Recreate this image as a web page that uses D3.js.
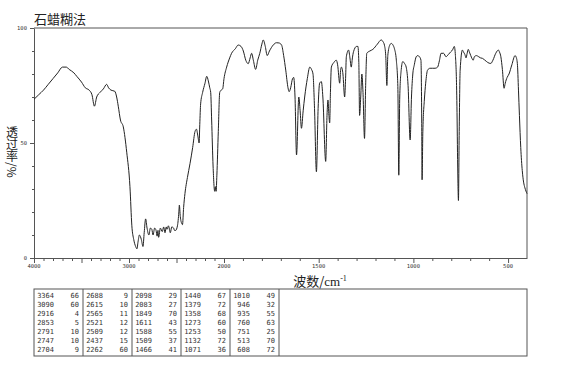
<!DOCTYPE html>
<html>
<head>
<meta charset="utf-8">
<script src="https://cdn.jsdelivr.net/npm/d3@7"></script>
<style>
  body { margin: 0; background: #fff; }
  svg { display: block; }
</style>
</head>
<body>
<div class="canvas"></div>
<script>
// spectrum: [wavenumber, transmittance %]
const spectrum = [
  [4000,69],[3950,71],[3900,73],[3850,75.5],[3800,78],[3750,80.5],[3700,83],[3660,83],
  [3630,82],[3580,80.5],[3550,79],[3500,76.5],[3460,74],[3420,73],[3390,71],[3364,66],
  [3340,70],[3305,72],[3270,73.5],[3235,75.5],[3215,74],[3190,73],[3150,72.5],[3130,70],
  [3113,66],[3090,60],[3060,57],[3024,46],[2990,31],[2970,14],[2950,8],[2930,5],[2916,4],
  [2905,7],[2890,10],[2870,8],[2853,5],[2840,11],[2825,17],[2810,13],[2791,10],[2775,13],
  [2760,12.5],[2747,10],[2730,13],[2715,12],[2704,9.5],[2695,12],[2688,9],[2670,13],
  [2650,11.5],[2635,13.5],[2621,11],[2608,13.5],[2600,12.5],[2585,14],[2565,11],[2550,13.5],
  [2530,13],[2521,12],[2509,12],[2490,14],[2475,20],[2470,23],[2460,18],[2445,15],
  [2437,14.5],[2425,22],[2411,28],[2385,35],[2358,41],[2330,48],[2305,55],[2290,56],
  [2275,53],[2262,50],[2255,58],[2246,67],[2225,72],[2200,76],[2182,79],[2165,77],
  [2150,74],[2140,72],[2130,60],[2115,40],[2098,29],[2090,31],[2083,29],[2075,36],
  [2060,55],[2045,72],[2030,73],[2014,73.5],[2000,78],[1986,83],[1970,87],[1960,89],
  [1940,91],[1925,92.6],[1910,92],[1898,90],[1885,86],[1872,84.5],[1862,87],[1854,89],
  [1845,86],[1833,82],[1822,86],[1811,89],[1800,93],[1793,94.8],[1782,92],[1772,88],
  [1760,90],[1740,92.6],[1723,93.6],[1710,93.5],[1696,92.6],[1685,88],[1674,81.7],
  [1662,74],[1656,72.3],[1648,74],[1638,78],[1632,78.5],[1625,70],[1617,44.8],[1605,70],
  [1598,64],[1591,56.4],[1582,64],[1574,70],[1560,78],[1547,83],[1538,82],[1530,80],
  [1522,65],[1512,37.5],[1503,65],[1495,76],[1486,76.7],[1478,70],[1463,42],[1456,62],
  [1451,68.7],[1446,62],[1442,58.7],[1438,72],[1433,83],[1420,85],[1407,86],[1400,84],
  [1389,76],[1384,82],[1380,83],[1372,80],[1363,70],[1358,78],[1354,87.5],[1342,90.4],
  [1335,87],[1328,83],[1322,87],[1316,89.7],[1300,92],[1293,92],[1288,85],[1284,62],
  [1278,70],[1272,80],[1266,72],[1258,52],[1252,75],[1246,89],[1230,90],[1214,90.7],
  [1190,93],[1170,94.8],[1160,94],[1153,92.6],[1146,88],[1140,75],[1135,88],[1125,92.5],
  [1117,93.3],[1107,92.5],[1100,91],[1090,86],[1082,74.5],[1077,36],[1072,70],[1064,82],
  [1056,85.4],[1046,84.5],[1038,83],[1028,75],[1017,51.3],[1010,70],[1003,80],[995,84],
  [985,87.5],[977,88],[968,87.5],[960,86],[956,60],[954,34],[950,55],[942,68.7],[935,76],
  [925,81.7],[912,82.5],[898,82.5],[885,82.5],[872,83],[862,86],[854,89],[840,89],
  [828,87.5],[815,88.5],[802,89.7],[793,90.5],[784,92],[778,88],[772,75],[770,66],
  [766,40],[762,25],[758,55],[753,81.7],[741,90.4],[735,89.5],[728,88.5],[722,87],
  [716,89],[710,90.7],[704,89.5],[697,88],[692,87],[684,86],[678,87.5],[667,88],
  [655,87.5],[645,87],[635,86.8],[615,85.5],[600,84.7],[591,84.6],[580,86],[565,89],
  [551,90.4],[545,89.5],[538,87.5],[530,82],[521,73.8],[515,76],[505,78.5],[495,80],
  [480,84],[463,88],[458,87.5],[451,84.6],[445,73],[440,62],[433,48],[425,38],[418,33],
  [411,30.5],[400,28]
];

// peak table (column by column)
const peakWaves = [
  3364,3090,2916,2853,2791,2747,2704,
  2688,2615,2565,2521,2509,2437,2262,
  2098,2083,1849,1611,1588,1509,1466,
  1440,1379,1358,1273,1253,1132,1071,
  1010,946,935,760,751,513,608
];
const peakTrans = [
  66,60,4,5,10,10,9,
  9,10,11,12,12,15,60,
  29,27,70,43,55,37,41,
  67,72,68,60,50,72,36,
  49,32,55,63,25,70,72
];

const xMajor = [4000, 3000, 2000, 1500, 1000, 500];
const yLabels = [0, 50, 100];

const width = 570, height = 366;
const plot = { left: 34, right: 527, top: 28, bottom: 258 };

const svg = d3.select('.canvas').append('svg')
  .attr('width', width)
  .attr('height', height);

// axis is compressed above 2000 cm-1
const x = d3.scaleLinear()
  .domain([4000, 2000, 400])
  .range([plot.left, 224, plot.right]);

const y = d3.scaleLinear()
  .domain([0, 100])
  .range([plot.bottom, plot.top]);

const axisColour = '#555';

// title
svg.append('text')
  .attr('x', plot.left)
  .attr('y', 24)
  .attr('font-family', 'Noto Sans CJK SC')
  .attr('font-size', 13)
  .attr('fill', '#222')
  .text('石蜡糊法');

// frame (top + right)
svg.append('path')
  .attr('d', `M${plot.left},${plot.top}H${plot.right}V${plot.bottom}`)
  .attr('fill', 'none')
  .attr('stroke', axisColour)
  .attr('stroke-width', 1);

// x axis: minor ticks every 100
const xMinor = d3.range(3900, 400, -100).filter(d => d % 500 !== 0);
const xAllMajor = d3.range(4000, 400, -500);

const gx = svg.append('g')
  .attr('transform', `translate(0, ${plot.bottom})`);

gx.call(d3.axisBottom(x).tickValues(xMinor).tickSizeInner(3).tickSizeOuter(0).tickFormat(''));
gx.append('g').call(d3.axisBottom(x).tickValues(xAllMajor).tickSize(5).tickFormat(''))
  .select('.domain').remove();

gx.selectAll('path, line').attr('stroke', axisColour);

gx.selectAll('.xlab')
  .data(xMajor)
  .enter().append('text')
  .attr('class', 'xlab')
  .attr('x', d => x(d))
  .attr('y', 10)
  .attr('text-anchor', 'middle')
  .attr('font-family', 'DejaVu Sans Mono')
  .attr('font-size', 5.5)
  .attr('fill', '#333')
  .text(d => d);

// y axis
const gy = svg.append('g')
  .attr('transform', `translate(${plot.left}, 0)`);

gy.call(d3.axisLeft(y).tickValues(d3.range(10, 100, 10).filter(d => d !== 50)).tickSizeInner(2).tickSizeOuter(0).tickFormat(''));
gy.append('g').call(d3.axisLeft(y).tickValues(yLabels).tickSize(4).tickFormat(''))
  .select('.domain').remove();
gy.selectAll('path, line').attr('stroke', axisColour);

gy.selectAll('.ylab')
  .data(yLabels)
  .enter().append('text')
  .attr('class', 'ylab')
  .attr('x', -7)
  .attr('y', d => y(d) + 2)
  .attr('text-anchor', 'end')
  .attr('font-family', 'DejaVu Sans Mono')
  .attr('font-size', 5.5)
  .attr('fill', '#333')
  .text(d => d);

// y title, written vertically (CJK upright, "/%" turned)
svg.append('text')
  .attr('x', 12)
  .attr('y', 126)
  .attr('font-family', 'Noto Sans CJK SC')
  .attr('font-size', 12)
  .attr('fill', '#222')
  .style('writing-mode', 'vertical-rl')
  .style('text-orientation', 'mixed')
  .text('透过率/%');

// x title
const xt = svg.append('text')
  .attr('x', 320)
  .attr('y', 286)
  .attr('text-anchor', 'middle')
  .attr('font-family', 'Noto Sans CJK SC')
  .attr('font-size', 13)
  .attr('fill', '#222');
xt.append('tspan').text('波数/');
xt.append('tspan').attr('font-family', 'Liberation Serif').text('cm');
xt.append('tspan').attr('font-family', 'Liberation Serif').attr('font-size', 8).attr('dy', -5).text('-1');

// spectrum line
const line = d3.line()
  .x(d => x(d[0]))
  .y(d => y(d[1]))
  .curve(d3.curveMonotoneX);

svg.append('path')
  .datum(spectrum)
  .attr('fill', 'none')
  .attr('stroke', '#222')
  .attr('stroke-width', 1)
  .attr('d', line);

// peak table
const table = { left: 34, right: 527, top: 289, bottom: 356, colW: 49, rowH: 9 };
const rows = 7;

svg.append('rect')
  .attr('x', table.left)
  .attr('y', table.top)
  .attr('width', table.right - table.left)
  .attr('height', table.bottom - table.top)
  .attr('fill', 'none')
  .attr('stroke', axisColour);

d3.range(1, 6).forEach(i => {
  svg.append('line')
    .attr('x1', table.left + i * table.colW)
    .attr('x2', table.left + i * table.colW)
    .attr('y1', table.top)
    .attr('y2', table.bottom)
    .attr('stroke', axisColour);
});

const cells = svg.append('g')
  .attr('font-family', 'DejaVu Sans Mono')
  .attr('font-size', 7)
  .attr('fill', '#333')
  .attr('text-anchor', 'end');

peakWaves.forEach((w, i) => {
  const col = Math.floor(i / rows), row = i % rows;
  const cx = table.left + col * table.colW;
  const cy = table.top + 8.5 + row * table.rowH;
  cells.append('text').attr('x', cx + 20).attr('y', cy).text(w);
  cells.append('text').attr('x', cx + 45).attr('y', cy).text(peakTrans[i]);
});
</script>
</body>
</html>
